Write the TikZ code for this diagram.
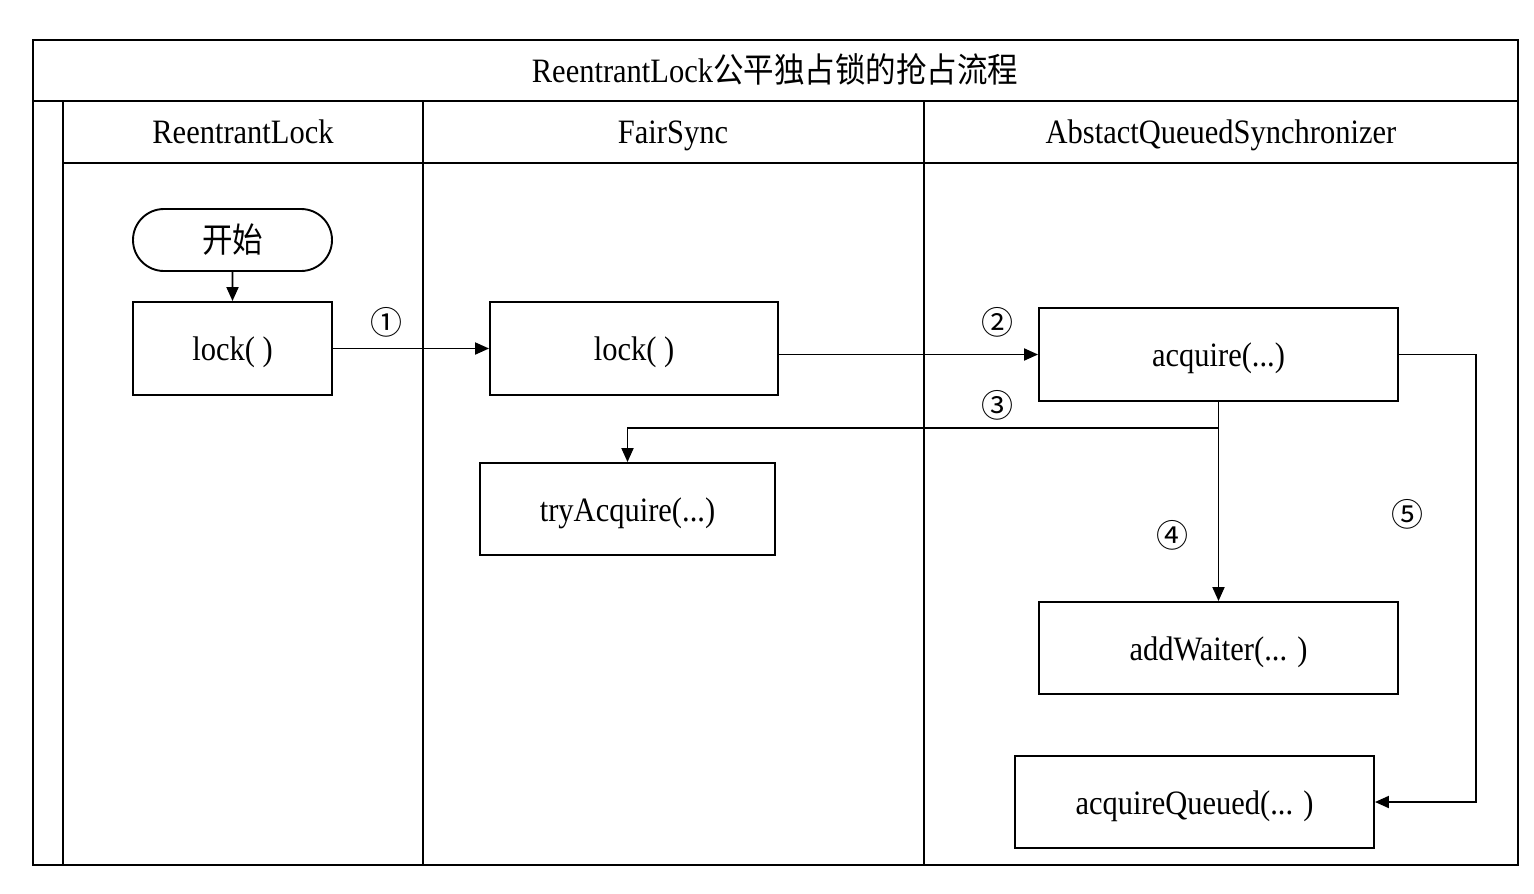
\documentclass[tikz,border=0pt]{standalone}
\usepackage{fontspec}
\setmainfont{Liberation Serif}
\newfontfamily\cjk{Noto Sans CJK SC}
\newfontfamily\circfont{Noto Sans CJK SC}
\usetikzlibrary{arrows.meta,shapes.misc}
\newcommand{\tx}[1]{\scalebox{1}[1.12]{\vphantom{()}}\smash{\raisebox{-4pt}{\scalebox{1}[1.12]{\vphantom{()}#1}}}}
\tikzset{
  lane/.style={line width=1.9pt},
  frame/.style={line width=2.6pt},
  txt/.style={font=\fontsize{30.5}{34}\selectfont, inner sep=0pt},
  proc/.style={draw, line width=1.9pt, inner sep=0pt, font=\fontsize{30.5}{34}\selectfont},
  term/.style={draw, line width=1.9pt, rounded rectangle, inner sep=0pt, font=\fontsize{30.5}{34}\selectfont},
  num/.style={font=\circfont\fontsize{32}{36}\selectfont, inner sep=0pt},
  arr/.style={line width=1.9pt, -{Triangle[length=14pt,width=12pt]}},
  ln/.style={line width=1.9pt}
}
\begin{document}
\begin{tikzpicture}[x=1pt,y=-1pt]
\useasboundingbox (0,0) rectangle (1534,894);
% frame and lanes
\draw[frame] (33,40) rectangle (1518,865);
\draw[lane] (33,101) -- (1518,101);
\draw[lane] (63,163) -- (1518,163);
\draw[lane] (63,101) -- (63,865);
\draw[lane] (423,101) -- (423,865);
\draw[lane] (924,101) -- (924,865);
% titles
\node[txt] (title) at (775,70) {\tx{ReentrantLock{\cjk 公平独占锁的抢占流程}}};
\node[txt] (h1) at (243,131) {\tx{ReentrantLock}};
\node[txt] (h2) at (673,131) {\tx{FairSync}};
\node[txt] (h3) at (1221,131) {\tx{AbstactQueuedSynchronizer}};
% nodes
\node[term, minimum width=199pt, minimum height=62pt] (start) at (232.5,240) {\tx{\cjk 开始}};
\node[proc, minimum width=199pt, minimum height=93pt] (l1) at (232.5,348.5) {\tx{lock( )}};
\node[proc, minimum width=288pt, minimum height=93pt] (l2) at (634,348.5) {\tx{lock( )}};
\node[proc, minimum width=295pt, minimum height=92pt] (try) at (627.5,509) {\tx{tryAcquire(...)}};
\node[proc, minimum width=359pt, minimum height=93pt] (acq) at (1218.5,354.5) {\tx{acquire(...)}};
\node[proc, minimum width=359pt, minimum height=92pt] (aw) at (1218.5,648) {\tx{addWaiter(... )}};
\node[proc, minimum width=359pt, minimum height=92pt] (aq) at (1194.5,802) {\tx{acquireQueued(... )}};
% connectors
\draw[arr] (start) -- (l1);
\draw[arr] (l1) -- (l2);
\draw[arr] (l2.east |- acq.west) -- (acq.west);
\coordinate (j3) at (1218.5,428);
\draw[arr] (j3) -| (try.north);
\draw[arr] (acq.south) -- (aw.north);
\coordinate (r5) at (1476,354.5);
\draw[arr] (acq.east) -- (r5) |- (aq.east);
% labels
\node[num] (n1) at (386,322) {①};
\node[num] (n2) at (997,322) {②};
\node[num] (n3) at (997,405) {③};
\node[num] (n4) at (1172,535) {④};
\node[num] (n5) at (1407,514) {⑤};
\end{tikzpicture}
\end{document}
